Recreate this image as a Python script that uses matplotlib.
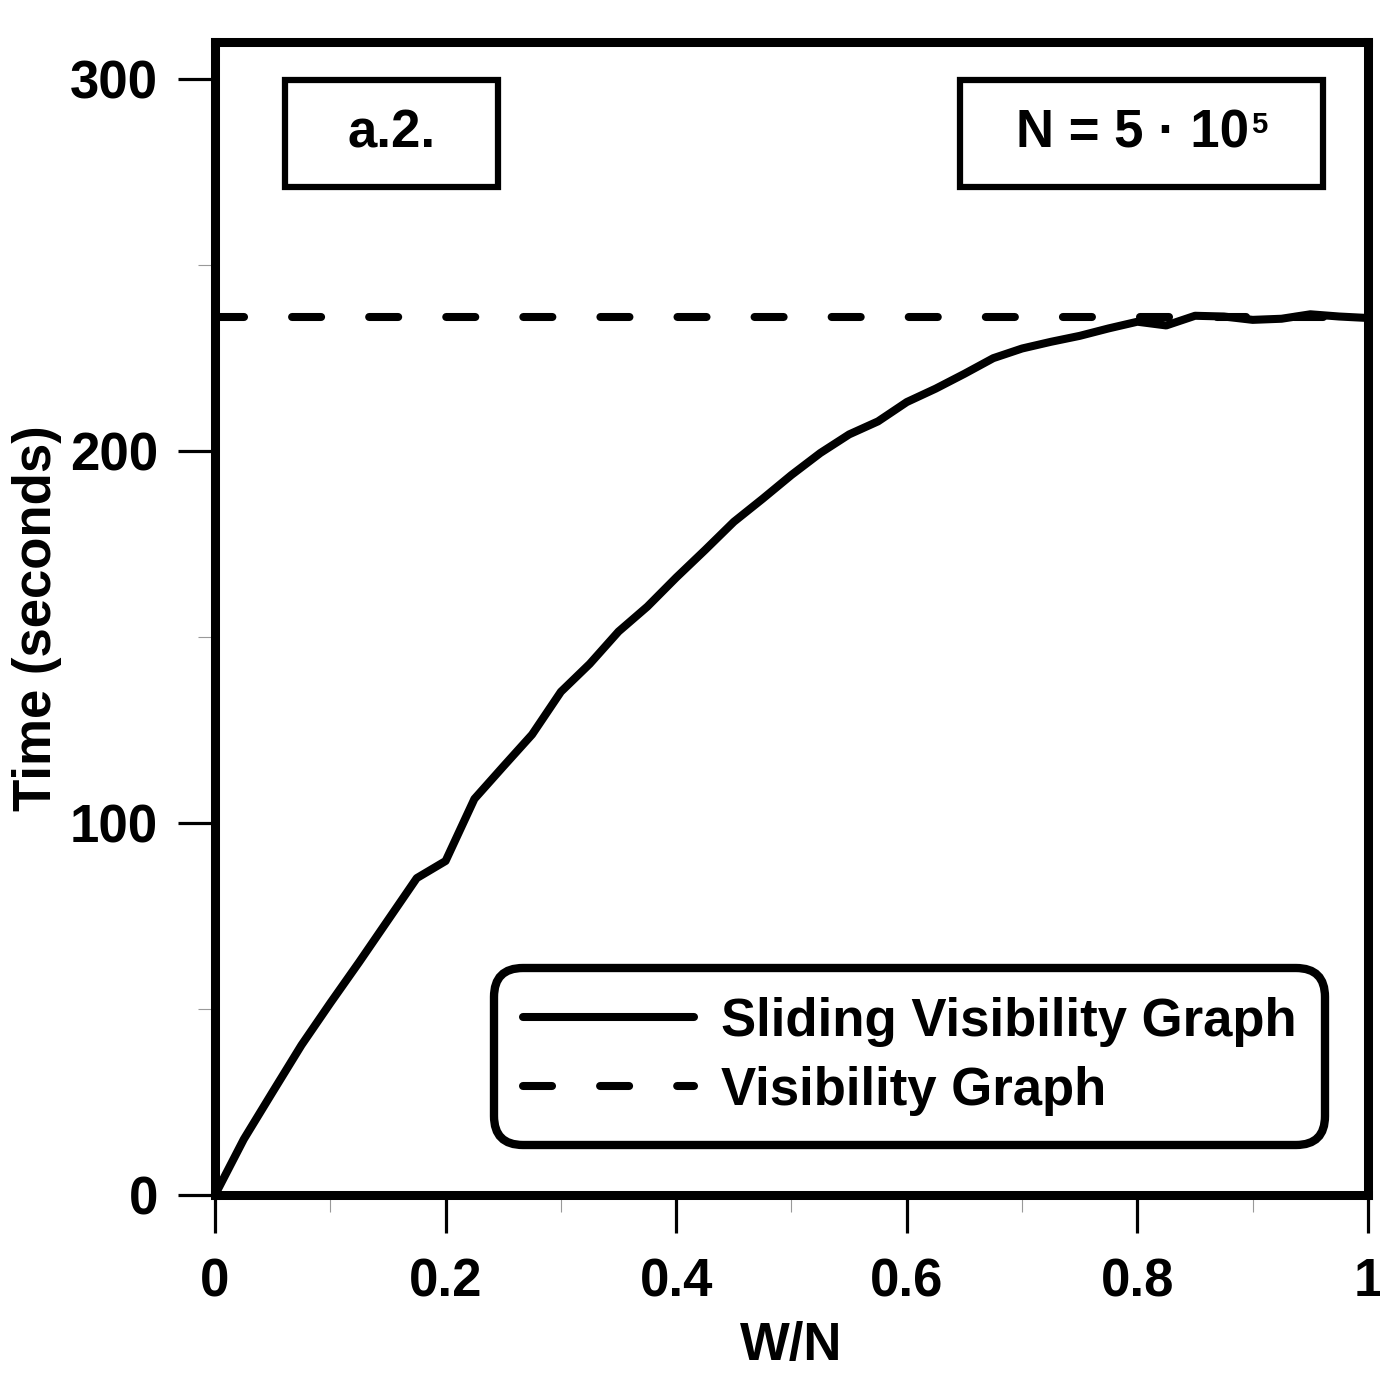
import numpy as np
import matplotlib
matplotlib.use("Agg")
import matplotlib.pyplot as plt
from matplotlib.patches import Rectangle
from matplotlib.transforms import offset_copy

plt.rcParams['font.family'] = ['Liberation Sans', 'DejaVu Sans']
plt.rcParams['font.weight'] = 'bold'
plt.rcParams['lines.scale_dashes'] = False

# data
w_n = [0.0, 0.025, 0.05, 0.075, 0.1, 0.125, 0.15, 0.175, 0.2, 0.225,
       0.25, 0.275, 0.3, 0.325, 0.35, 0.375, 0.4, 0.425, 0.45, 0.475,
       0.5, 0.525, 0.55, 0.575, 0.6, 0.625, 0.65, 0.675, 0.7, 0.725,
       0.75, 0.775, 0.8, 0.825, 0.85, 0.875, 0.9, 0.925, 0.95, 0.975, 1.0]
svg_time = [0.0, 15.0, 27.7, 40.3, 51.6, 62.6, 73.9, 85.2, 89.8, 106.5,
            115.2, 123.8, 135.3, 142.8, 151.5, 158.2, 166.0, 173.4, 181.0, 187.2,
            193.6, 199.5, 204.5, 208.0, 213.2, 216.8, 220.8, 225.0, 227.6, 229.4,
            231.0, 233.0, 234.8, 233.8, 236.4, 236.2, 235.3, 235.6, 236.8, 236.2, 235.8]
vg_time = 236.2

series_labels = ['Sliding Visibility Graph', 'Visibility Graph']
panel_label = 'a.2.'
n_label_main = 'N = 5 · 10'
n_label_exp = '5'

fig = plt.figure(figsize=(13.8, 13.74), dpi=100)
ax = fig.add_axes([0.1558, 0.1303, 0.8355, 0.8391])

fs = 38
lw = 5.8

ax.plot(w_n, svg_time, color='black', lw=lw, solid_capstyle='round',
        solid_joinstyle='round', label=series_labels[0], zorder=3)
ax.plot([w_n[0], w_n[-1]], [vg_time, vg_time], color='black', lw=lw,
        dashes=(20.9, 34.6), dash_capstyle='round', label=series_labels[1], zorder=3)

ax.set_xlim(0, 1)
ax.set_ylim(0, 310)
ax.set_xticks([0, 0.2, 0.4, 0.6, 0.8, 1.0])
ax.set_xticklabels(['0', '0.2', '0.4', '0.6', '0.8', '1'])
ax.set_xticks([0.1, 0.3, 0.5, 0.7, 0.9], minor=True)
ax.set_yticks([0, 100, 200, 300])
ax.set_yticks([50, 150, 250], minor=True)

for s in ax.spines.values():
    s.set_linewidth(6.5)
ax.tick_params(which='major', direction='out', length=27, width=2.3,
               labelsize=fs, color='black')
ax.tick_params(axis='x', which='major', pad=18)
ax.tick_params(axis='y', which='major', pad=14)
ax.tick_params(which='minor', direction='out', length=12, width=0.8, color='#999999')

ax.set_xlabel('W/N', fontsize=fs, fontweight='bold', labelpad=10)
ax.set_ylabel('Time (seconds)', fontsize=fs, fontweight='bold', labelpad=6)

# boxes at top
ax.add_patch(Rectangle((0.0607, 0.874), 0.1847, 0.093, transform=ax.transAxes,
                       fill=False, lw=4.5, ec='black', zorder=4))
ax.text(0.153, 0.9206, panel_label, transform=ax.transAxes, fontsize=fs,
        fontweight='bold', ha='center', va='center')
ax.add_patch(Rectangle((0.646, 0.874), 0.315, 0.093, transform=ax.transAxes,
                       fill=False, lw=4.5, ec='black', zorder=4))

# N label with a small superscript, centred as a whole in its box
t_main = ax.text(0.8036, 0.9206, n_label_main, transform=ax.transAxes, fontsize=fs,
                 fontweight='bold', ha='left', va='center')
t_exp = ax.text(0.8036, 0.9206, n_label_exp, transform=ax.transAxes, fontsize=21,
                fontweight='bold', ha='left', va='top')
fig.canvas.draw()
r = fig.canvas.get_renderer()
bm = t_main.get_window_extent(r)
be = t_exp.get_window_extent(r)
total = bm.width + 2 + be.width
shift = -total / 2 * 72 / fig.dpi
t_main.set_transform(offset_copy(ax.transAxes, fig=fig, x=shift, y=0, units='points'))
cap_top = 0.716 * fs * 0.5
t_exp.set_transform(offset_copy(ax.transAxes, fig=fig,
                                x=shift + (bm.width + 2) * 72 / fig.dpi,
                                y=cap_top + 3, units='points'))

leg = ax.legend(loc='lower right', bbox_to_anchor=(0.9584, 0.048), borderaxespad=0,
                fontsize=fs, handlelength=3.25, handletextpad=0.5, borderpad=0.45,
                labelspacing=0.36, fancybox=True, framealpha=1, edgecolor='black')
leg.get_frame().set_linewidth(6)
leg.get_frame().set_boxstyle('round', pad=0.1, rounding_size=0.55)

fig.savefig('out.png', dpi=100)
